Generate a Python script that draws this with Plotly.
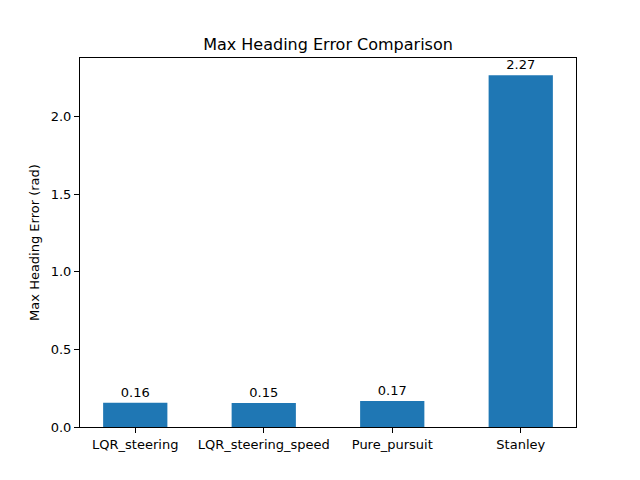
import plotly.graph_objects as go

# controllers and their max heading error (rad)
controllers = ['LQR_steering', 'LQR_steering_speed', 'Pure_pursuit', 'Stanley']
max_heading_error = [0.157, 0.154, 0.168, 2.266]

positions = list(range(len(controllers)))
labels = ['%.2f' % v for v in max_heading_error]

fig = go.Figure()
fig.add_trace(go.Bar(
    x=positions, y=max_heading_error, width=0.5,
    marker=dict(color='#1f77b4', line=dict(width=0)),
    text=labels, textposition='outside', cliponaxis=False,
    textfont=dict(family='DejaVu Sans', size=13, color='black'),
))

axis_style = dict(
    showline=True, linecolor='black', linewidth=1, mirror=True,
    ticks='outside', ticklen=5, tickcolor='black', showgrid=False,
    zeroline=False, tickfont=dict(family='DejaVu Sans', size=13, color='black'),
)

# page body has an 8px margin, so margins are shifted to compensate
fig.update_layout(
    width=640, height=480,
    margin=dict(l=72, r=72, t=50, b=61),
    paper_bgcolor='white', plot_bgcolor='white',
    showlegend=False,
    title=dict(text='Max Heading Error Comparison', x=(72 + 496 / 2) / 640,
               xanchor='center', y=1 - 36 / 480, yanchor='middle',
               font=dict(family='DejaVu Sans', size=16, color='black')),
    xaxis=dict(axis_style, tickvals=positions, ticktext=controllers,
               range=[-0.43, 3.43]),
    yaxis=dict(axis_style, range=[0, 2.377], tickvals=[0, 0.5, 1.0, 1.5, 2.0],
               ticktext=['0.0', '0.5', '1.0', '1.5', '2.0'],
               title=dict(text='Max Heading Error (rad)', standoff=8,
                          font=dict(family='DejaVu Sans', size=13, color='black'))),
)

fig.write_html("out.html")
